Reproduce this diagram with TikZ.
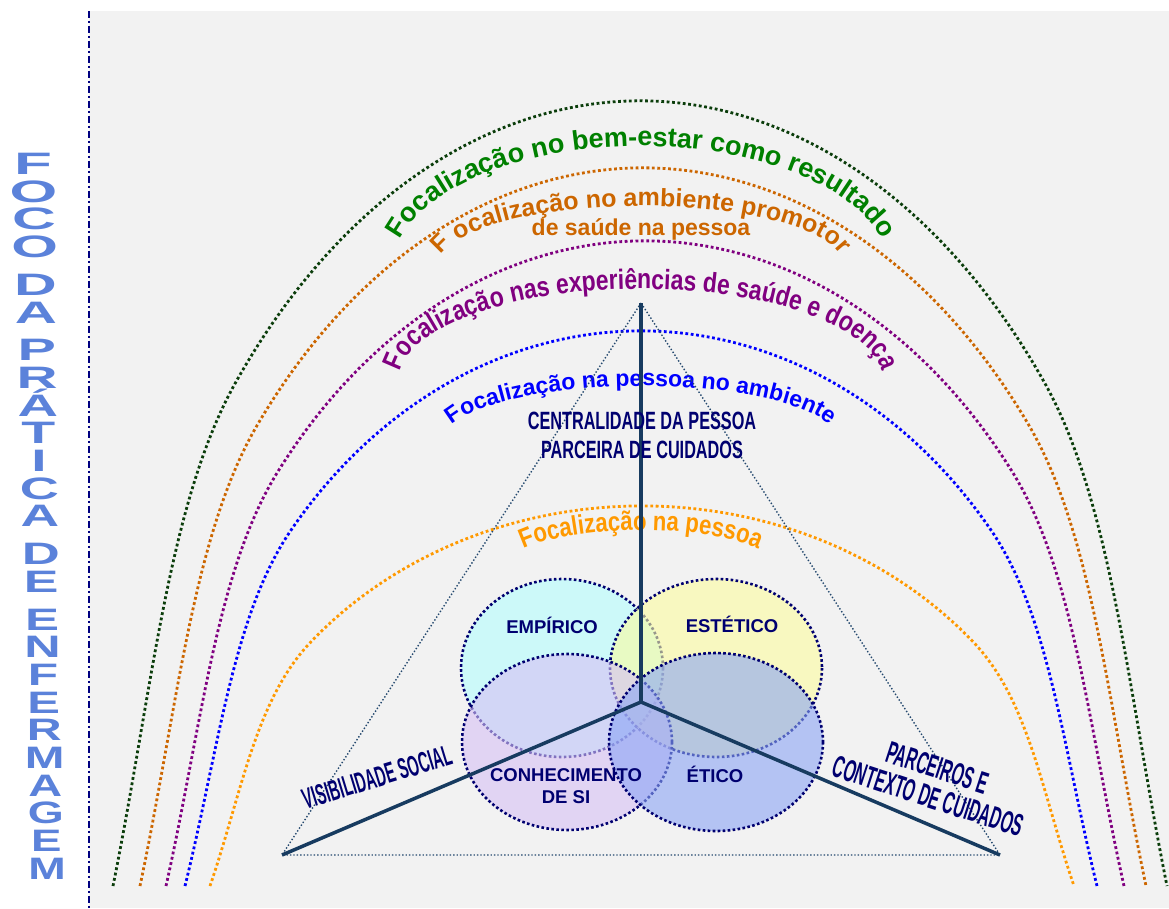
\documentclass[tikz,border=0pt]{standalone}
\usepackage{fontspec}
\setmainfont{Liberation Sans}
\newfontfamily\archfont[FakeStretch=0.82]{Liberation Sans}
\newfontfamily\condfont[FakeStretch=0.65]{Liberation Sans}
\newfontfamily\narrowfont[FakeStretch=0.5]{Liberation Sans}
\usetikzlibrary{decorations.text}
\definecolor{fundo}{HTML}{F2F2F2}
\definecolor{marinho}{HTML}{000070}
\definecolor{regua}{HTML}{000080}
\definecolor{focoazul}{HTML}{5B82DA}
\definecolor{verde}{HTML}{008000}
\definecolor{verdeesc}{HTML}{0B3D0B}
\definecolor{laranjaesc}{HTML}{CC6600}
\definecolor{roxo}{HTML}{800080}
\definecolor{azul}{HTML}{0000FF}
\definecolor{laranja}{HTML}{FF9900}
\definecolor{raio}{HTML}{173B60}
\definecolor{trilinha}{HTML}{24486E}
\definecolor{ciano}{RGB}{179,255,255}
\definecolor{amarelo}{RGB}{252,252,159}
\definecolor{lilas}{RGB}{215,192,245}
\definecolor{anil}{RGB}{139,165,245}

\begin{document}
\begin{tikzpicture}[x=1pt,y=-1pt,
  arco/.style={line width=2.8pt,dash pattern=on 2.8pt off 2.6pt},
  bolha/.style={draw=marinho,line width=2.6pt,dash pattern=on 2.6pt off 2.4pt,fill opacity=0.6},
  letra/.style={text=focoazul,font=\bfseries\fontsize{31}{31}\selectfont,inner sep=0pt,anchor=base},
  rotbolha/.style={text=marinho,font=\bfseries\fontsize{18.5}{22}\selectfont,align=center,inner sep=1pt},
  eixo/.style={text=marinho,font=\narrowfont\bfseries\fontsize{31}{30}\selectfont,align=center,inner sep=1pt}]
  \useasboundingbox (0,0) rectangle (1169,908);
  \fill[fundo] (89,11) rectangle (1169,908);
  \draw[regua,line width=2.5pt,dash pattern=on 7pt off 3pt on 2pt off 3pt] (89,11) -- (89,908);

  % coluna da esquerda
  \foreach \ch/\yy [count=\i] in {F/163,O/191,C/218,O/246,D/284,A/312,P/349,R/377,Á/405,T/432,I/460,C/488,A/515,D/553,E/581,E/619,N/646,F/674,E/702,R/729,M/757,A/785,G/812,E/840,M/868}{
    \pgfmathsetmacro{\fr}{(\yy-163)/705}
    \pgfmathsetmacro{\sx}{2.0-0.55*\fr}
    \node[letra] (foco\i) at ({33+14*\fr},\yy+11) {\scalebox{\sx}[1]{\ch}};
  }

  % arcos
  \foreach \col/\cx/\hw/\h in {verdeesc/640/527/785,laranjaesc/643/503/718,roxo/645/479/645,azul/641/456/555,laranja/642/432/380}{
    \begin{scope}[shift={(\cx,886)},xscale=\hw,yscale=-\h]
      \draw[arco,\col] (-1,0) .. controls (-.925,.25) and (-.895,.49) .. (-.766,.643)
        arc[start angle=140,end angle=40,radius=1]
        .. controls (.895,.49) and (.925,.25) .. (1,0);
    \end{scope}
  }

  \path[decorate,decoration={text along path,text align=center,text color=verde,
    text={|\bfseries\fontsize{27}{30}\selectfont|Focalização no bem-estar como resultado}}]
    (392.2,270.7) arc[start angle=180,end angle=360,x radius=248.8,y radius=124.7];
  \path[decorate,decoration={text along path,text align=center,text color=laranjaesc,
    text={|\bfseries\fontsize{25}{28}\selectfont|F ocalização no ambiente promotor}}]
    (438,266.3) arc[start angle=180,end angle=360,x radius=203,y radius=60.3];
  \node[text=laranjaesc,font=\bfseries\fontsize{23}{26}\selectfont,anchor=base] (saude) at (641,235) {de saúde na pessoa};
  \path[decorate,decoration={text along path,text align=center,text color=roxo,
    text={|\archfont\bfseries\fontsize{28}{31}\selectfont|Focalização nas experiências de saúde e doença}}]
    (399.3,379.8) arc[start angle=180,end angle=360,x radius=241.7,y radius=90.8];
  \path[decorate,decoration={text along path,text align=center,text color=azul,
    text={|\bfseries\fontsize{23}{26}\selectfont|Focalização na pessoa no ambiente}}]
    (443.1,441.5) arc[start angle=180,end angle=360,x radius=197.9,y radius=55.5];
  \path[decorate,decoration={text along path,text align=center,text color=laranja,
    text={|\archfont\bfseries\fontsize{27}{29}\selectfont|Focalização na pessoa}}]
    (503.3,569.9) arc[start angle=180,end angle=360,x radius=137.7,y radius=39.9];

  % triangulo
  \coordinate (apex) at (641,303);
  \coordinate (esq) at (282,855);
  \coordinate (dir) at (1000,855);
  \coordinate (hub) at (641,702);
  \draw[trilinha,line width=1.4pt,dotted] (apex) -- (esq) -- (dir) -- cycle;

  % saberes
  \draw[bolha,fill=ciano] (562,668) ellipse[x radius=101,y radius=89];
  \draw[bolha,fill=amarelo] (716,668) ellipse[x radius=106,y radius=89];
  \draw[bolha,fill=lilas] (567,742) ellipse[x radius=105,y radius=88];
  \draw[bolha,fill=anil] (716,742) ellipse[x radius=107,y radius=89];

  \draw[raio,line width=3.5pt] (hub) -- (apex);
  \draw[raio,line width=3.5pt] (hub) -- (esq);
  \draw[raio,line width=3.5pt] (hub) -- (dir);

  \node[rotbolha] (empirico) at (552,625) {EMPÍRICO};
  \node[rotbolha] (estetico) at (732,624) {ESTÉTICO};
  \node[rotbolha] (conhecimento) at (566,786) {CONHECIMENTO\\DE SI};
  \node[rotbolha] (etico) at (715,774) {ÉTICO};

  \node[text=marinho,font=\condfont\bfseries\fontsize{25}{29}\selectfont,align=center] (centro) at (642,435) {CENTRALIDADE DA PESSOA\\PARCEIRA DE CUIDADOS};
  \node[eixo,rotate=17,font=\narrowfont\bfseries\fontsize{29}{30}\selectfont] (visib) at (377,777) {VISIBILIDADE SOCIAL};
  \node[eixo,rotate=-18] (parc) at (933,782) {PARCEIROS E\\CONTEXTO DE CUIDADOS};
\end{tikzpicture}
\end{document}
